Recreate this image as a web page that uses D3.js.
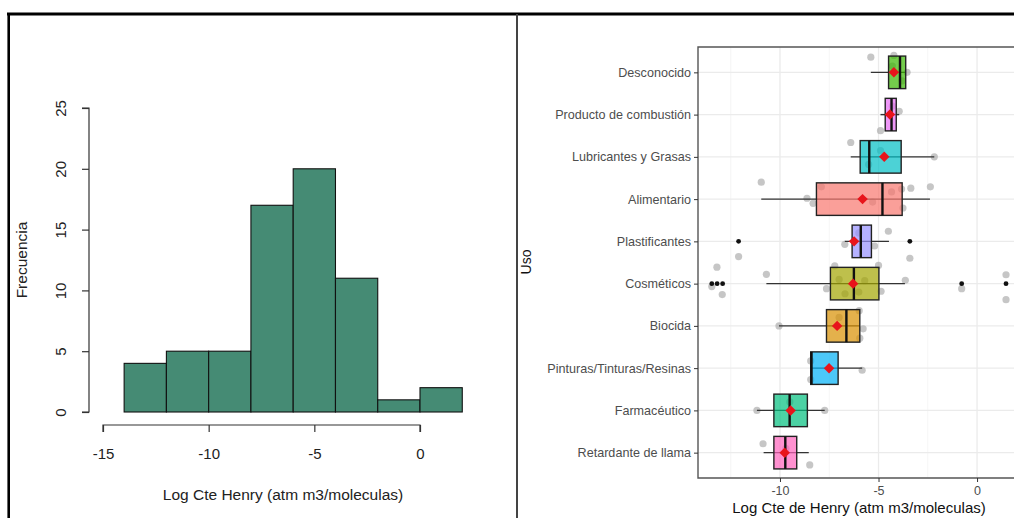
<!DOCTYPE html>
<html><head><meta charset="utf-8">
<script src="https://cdn.jsdelivr.net/npm/d3@7"></script>
<style>body{margin:0;background:#fff}svg{display:block}text{font-family:"Liberation Sans",Arial,sans-serif}</style>
</head><body><svg id="c" width="1014" height="518"></svg>
<script>
// ---------- Histogram data ----------
const histEdges = [-14,-12,-10,-8,-6,-4,-2,0,2];
const histCounts = [4,5,5,17,20,11,1,2];
const histXTicks = [-15,-10,-5,0];
const histYTicks = [0,5,10,15,20,25];

// ---------- Boxplot data ----------
const categories = ["Desconocido","Producto de combustión","Lubricantes y Grasas","Alimentario","Plastificantes","Cosméticos","Biocida","Pinturas/Tinturas/Resinas","Farmacéutico","Retardante de llama"];
const boxColors = ["#39B600","#E76BF3","#00BFC4","#F8766D","#9590FF","#A3A500","#D89000","#00B0F6","#00BF7D","#FF62BC"];
const q1      = [-4.49,-4.66,-5.93,-8.15,-6.34,-7.44,-7.64,-8.44,-10.31,-10.31];
const medians = [-3.91,-4.34,-5.47,-4.80,-5.90,-6.25,-6.63,-8.40,-9.51,-9.73];
const q3      = [-3.62,-4.10,-3.85,-3.80,-5.36,-4.98,-5.95,-7.05,-8.61,-9.15];
const whiskLo = [-5.39,-4.90,-6.41,-10.95,-6.71,-10.69,-10.05,-8.44,-11.17,-10.83];
const whiskHi = [-3.62,-3.95,-2.17,-2.39,-4.47,-3.66,-5.95,-5.83,-7.73,-8.54];
const means   = [-4.22,-4.42,-4.71,-5.81,-6.24,-6.29,-7.10,-7.51,-9.46,-9.76];
const outliers = [[],[],[],[],[-12.1,-3.41],[-13.46,-13.19,-12.91,-0.78,1.47],[],[],[],[]];
// jittered raw points: [value, vertical jitter in category units (+ = up)]
const jitterPts = [
  [[-5.39,0.36],[-4.22,0.40],[-3.55,0.0],[-3.8,-0.2],[-4.3,0.15]],
  [[-3.95,0.08],[-4.90,-0.38],[-4.3,0.2]],
  [[-6.41,0.34],[-2.17,0.0],[-5.5,-0.18],[-4.9,0.15]],
  [[-10.95,0.40],[-8.63,0.02],[-8.32,-0.10],[-7.9,0.29],[-5.3,-0.07],[-4.34,0.17],[-3.83,0.24],[-3.36,0.26],[-2.37,0.29],[-3.76,-0.21]],
  [[-12.1,-0.36],[-3.41,-0.40],[-4.5,0.24],[-6.71,-0.07],[-5.2,-0.11],[-6.0,0.2]],
  [[-13.2,0.39],[-13.46,-0.07],[-12.93,-0.26],[-10.69,0.22],[-7.64,-0.12],[-7.22,0.42],[-6.7,-0.24],[-5.7,0.07],[-5.0,0.43],[-4.87,-0.18],[-3.64,0.08],[-0.78,-0.12],[1.47,0.21],[1.47,-0.38],[-7.0,0.1],[-6.0,-0.2]],
  [[-10.05,0.0],[-5.78,-0.07],[-5.95,-0.29],[-5.98,0.36],[-7.0,0.2]],
  [[-5.83,-0.05],[-8.44,0.17],[-8.44,-0.27]],
  [[-11.17,0.0],[-7.73,0.0],[-9.5,0.2]],
  [[-10.86,0.21],[-8.49,-0.29],[-9.7,0.1]]
];
const boxXTicks = [-10,-5,0];
const boxXMinor = [-12.5,-7.5,-2.5];

const svg = d3.select("#c");
const fmt = d => String(d);

// ---------- frame ----------
svg.append("line").attr("x1",7).attr("x2",1014).attr("y1",14).attr("y2",14).attr("stroke","#000").attr("stroke-width",3);
svg.append("line").attr("x1",8.7).attr("x2",8.7).attr("y1",13).attr("y2",518).attr("stroke","#000").attr("stroke-width",2.6);
svg.append("line").attr("x1",517).attr("x2",517).attr("y1",14).attr("y2",518).attr("stroke","#444").attr("stroke-width",2);

// ---------- Histogram ----------
const hx = d3.scaleLinear().domain([-15,0]).range([103,420]);
const hy = d3.scaleLinear().domain([0,25]).range([412,108]);
const hg = svg.append("g");
hg.selectAll("rect.bar").data(histCounts).join("rect")
  .attr("x",(d,i)=>hx(histEdges[i])).attr("width",(d,i)=>hx(histEdges[i+1])-hx(histEdges[i]))
  .attr("y",d=>hy(d)).attr("height",d=>hy(0)-hy(d))
  .attr("fill","#458B74").attr("stroke","#111").attr("stroke-width",1.1);
// x axis
const hxAxis = hg.append("g").attr("transform","translate(0,425)")
  .call(d3.axisBottom(hx).tickValues(histXTicks).tickSize(7).tickPadding(16).tickFormat(fmt));
hxAxis.select(".domain").attr("stroke","#333").attr("stroke-width",1.2).attr("d",`M${hx(-15)},7V0H${hx(0)}V7`);
hxAxis.selectAll(".tick line").attr("stroke","#333").attr("stroke-width",1.2);
hxAxis.selectAll("text").attr("font-size",15).attr("fill","#222").attr("font-family","Liberation Sans, Arial");
// y axis
const hyAxis = hg.append("g").attr("transform","translate(89,0)")
  .call(d3.axisLeft(hy).tickValues(histYTicks).tickSize(7).tickPadding(0).tickFormat(fmt));
hyAxis.select(".domain").attr("stroke","#333").attr("stroke-width",1.2).attr("d",`M-7,${hy(0)}H0V${hy(25)}H-7`);
hyAxis.selectAll(".tick line").attr("stroke","#333").attr("stroke-width",1.2);
hyAxis.selectAll("text").attr("font-size",15).attr("fill","#222").attr("font-family","Liberation Sans, Arial")
  .attr("x",0).attr("dy",0).attr("text-anchor","middle").attr("dominant-baseline","central")
  .attr("transform","translate(-29,0) rotate(-90)");
hg.append("text").attr("x",283).attr("y",500).attr("text-anchor","middle").attr("font-size",15.5).attr("fill","#222")
  .text("Log Cte Henry (atm m3/moleculas)");
hg.append("text").attr("transform","translate(27,260) rotate(-90)").attr("text-anchor","middle").attr("font-size",15.5).attr("fill","#222")
  .text("Frecuencia");

// ---------- Boxplot ----------
const bx = d3.scaleLinear().domain([-14.16,2.23]).range([698,1021]);
const by = d3.scalePoint().domain(categories).range([47,478]).padding(0.6);
const step = by.step();
const bw = step*0.77;
const pg = svg.append("g");
// grid
pg.selectAll("line.minor").data(boxXMinor).join("line").attr("x1",d=>bx(d)).attr("x2",d=>bx(d)).attr("y1",47).attr("y2",478).attr("stroke","#F2F2F2").attr("stroke-width",0.8);
pg.selectAll("line.major").data(boxXTicks).join("line").attr("x1",d=>bx(d)).attr("x2",d=>bx(d)).attr("y1",47).attr("y2",478).attr("stroke","#EBEBEB").attr("stroke-width",1.3);
pg.selectAll("line.hmaj").data(categories).join("line").attr("x1",698).attr("x2",1021).attr("y1",d=>by(d)).attr("y2",d=>by(d)).attr("stroke","#EBEBEB").attr("stroke-width",1.3);
// jitter points
categories.forEach((c,i)=>{
  pg.selectAll(null).data(jitterPts[i]).join("circle")
    .attr("cx",d=>bx(d[0])).attr("cy",d=>by(c)-d[1]*step).attr("r",3.6)
    .attr("fill","#A8A8A8").attr("fill-opacity",0.65);
});
// whiskers
pg.selectAll("line.wh").data(categories).join("line")
  .attr("x1",(c,i)=>bx(whiskLo[i])).attr("x2",(c,i)=>bx(whiskHi[i])).attr("y1",c=>by(c)).attr("y2",c=>by(c))
  .attr("stroke","#333").attr("stroke-width",1.4);
// boxes
pg.selectAll("rect.box").data(categories).join("rect")
  .attr("x",(c,i)=>bx(q1[i])).attr("width",(c,i)=>bx(q3[i])-bx(q1[i]))
  .attr("y",c=>by(c)-bw/2).attr("height",bw)
  .attr("fill",(c,i)=>boxColors[i]).attr("fill-opacity",0.7).attr("stroke","#222").attr("stroke-width",1.4);
// medians
pg.selectAll("line.med").data(categories).join("line")
  .attr("x1",(c,i)=>bx(medians[i])).attr("x2",(c,i)=>bx(medians[i])).attr("y1",c=>by(c)-bw/2).attr("y2",c=>by(c)+bw/2)
  .attr("stroke","#111").attr("stroke-width",2.4);
// outliers
categories.forEach((c,i)=>{
  pg.selectAll(null).data(outliers[i]).join("circle")
    .attr("cx",d=>bx(d)).attr("cy",by(c)).attr("r",2.4).attr("fill","#111");
});
// means
const diamond = d3.symbol().type(d3.symbolDiamond2).size(70);
pg.selectAll("path.mean").data(categories).join("path")
  .attr("d",diamond).attr("transform",(c,i)=>`translate(${bx(means[i])},${by(c)})`).attr("fill","#E8141B");
// panel border (left/top/bottom)
pg.append("path").attr("d","M1021,47H698V478H1021").attr("fill","none").attr("stroke","#555").attr("stroke-width",1.4);
// y axis ticks/labels
const byAxis = pg.append("g").attr("transform","translate(698,0)").call(d3.axisLeft(by).tickSize(4).tickPadding(3));
byAxis.select(".domain").remove();
byAxis.selectAll(".tick line").attr("stroke","#333");
byAxis.selectAll("text").attr("font-size",12.6).attr("fill","#4D4D4D").attr("font-family","Liberation Sans, Arial");
// x axis
const bxAxis = pg.append("g").attr("transform","translate(0,478)").call(d3.axisBottom(bx).tickValues(boxXTicks).tickSize(4).tickPadding(4).tickFormat(fmt));
bxAxis.select(".domain").remove();
bxAxis.selectAll(".tick line").attr("stroke","#333");
bxAxis.selectAll("text").attr("font-size",12.5).attr("fill","#4D4D4D").attr("font-family","Liberation Sans, Arial");
pg.append("text").attr("x",859).attr("y",513).attr("text-anchor","middle").attr("font-size",15).attr("fill","#111")
  .text("Log Cte de Henry (atm m3/moleculas)");
pg.append("text").attr("transform","translate(531,262) rotate(-90)").attr("text-anchor","middle").attr("font-size",14).attr("fill","#111")
  .text("Uso");
</script></body></html>
